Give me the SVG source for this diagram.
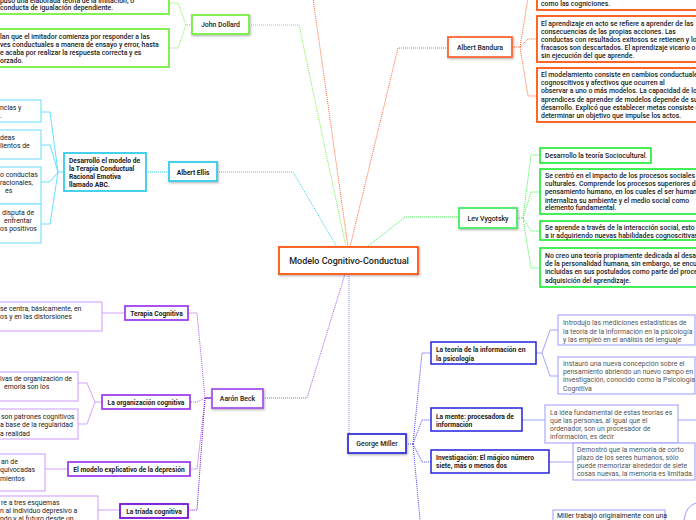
<svg xmlns="http://www.w3.org/2000/svg" width="696" height="520" viewBox="0 0 696 520">
<defs>
<filter id="sh" x="-20%" y="-20%" width="140%" height="160%"><feDropShadow dx="0.8" dy="1.2" stdDeviation="0.8" flood-color="#000" flood-opacity="0.3"/></filter>
</defs>
<style>
text{font-family:Roboto,"Liberation Sans",sans-serif;font-size:6.9px;fill:#222}
.c{text-anchor:middle}
.b{font-weight:700;font-size:6.7px}
.m{font-weight:500}
.g{fill:#555}
.box{fill:#fff}
.dot{fill:none;stroke-width:1;stroke-dasharray:1 1}
.sol{fill:none;stroke-width:0.9}
.or{stroke:#ff6633}
.gr1{stroke:#77f040}
.gr2{stroke:#44ee55}
.cy{stroke:#33ccee}
.pu{stroke:#a855f0}
.bl{stroke:#4444ee}
</style>
<rect width="696" height="520" fill="#fff"/>
<g id="connectors">
<path class="dot cy" d="M217,172 L293,172 L337,247"/>
<path class="dot gr1" d="M249,25 L299,25 L346,247"/>
<path class="dot or" d="M313,-2 L348,247"/>
<path class="dot or" d="M448,48 L398,48 L350,247"/>
<path class="dot gr2" d="M459,217 L405,217 L367,247"/>
<path class="dot pu" d="M263,398 L307,398 L345,274"/>
<path class="dot" style="stroke:#8888ff" d="M349,274 L349,434"/>
<path class="dot gr1" d="M192,25 L186,25 L178,3 L169,3 M186,25 L178,48 L169,48"/>
<path class="sol cy" style="stroke:#55ddff" d="M64,172 L58,172 L50,112 L41,112 M58,172 L50,145 L41,145 M58,172 L50,182 L41,182 M58,172 L50,224 L41,224"/>
<path class="dot cy" d="M169,172 L146,172"/>
<path class="sol pu" style="stroke:#7a10d8;stroke-width:1.3" d="M212,398 L205,398"/>
<path class="dot pu" d="M205,398 L197,313 L188,313 M205,398 L197,402 L190,402 M205,398 L197,469 L190,469"/>
<path class="dot pu" style="stroke:#7a10d8" d="M205,398 L197,510 L188,510"/>
<path class="sol pu" style="stroke:#cc99ff" d="M125,313 L102,313 M102,402 L95,402 L87,383 L78,383 M95,402 L87,424 L78,424 M68,469 L45,469 M120,510 L98,510"/>
<path class="dot bl" d="M406,444 L413,444 M413,444 L422,353 L431,353 M413,444 L422,420 L431,420 M413,444 L422,462 L431,462 M413,444 L420,520"/>
<path class="sol bl" style="stroke:#9999ff" d="M536,353 L542,353 L550,330 L558,330 M542,353 L550,376 L558,376 M522,420 L545,420 M678,420 L696,420 M549,462 L573,462"/>
<path class="dot or" d="M512,47 L520,47 L528,-2 L537,-2 M520,47 L528,39 L537,39 M520,47 L528,96 L537,96"/>
<path class="dot gr2" d="M517,218 L523,218 L531,155 L540,155 M523,218 L531,192 L540,192 M523,218 L531,231 L540,231 M523,218 L531,268 L540,268"/>
</g>
<g id="center">
<rect class="box" x="279" y="247" width="139" height="27" stroke="#ff5511" stroke-width="1.8" filter="url(#sh)"/>
<text class="c m" x="349" y="264" style="font-size:9px">Modelo Cognitivo-Conductual</text>
</g>
<g id="dollard">
<rect class="box" x="192" y="15" width="57" height="19" stroke="#77f040" stroke-width="1.8" filter="url(#sh)"/>
<text class="c m" x="220.5" y="27">John Dollard</text>
</g>
<g id="dollard-1">
<rect class="box" x="-5" y="-5" width="174" height="19" stroke="#77f040" stroke-width="1.8"/>
<text class="m" x="0" y="2.5">puso una elaborada teoría de la imitación, o</text>
<text class="m" x="0" y="10">conducta de igualación dependiente.</text>
</g>
<g id="dollard-2">
<rect class="box" x="-5" y="29" width="174" height="38" stroke="#77f040" stroke-width="1.8"/>
<text class="m" x="0" y="38.5">lan que el imitador comienza por responder a las</text>
<text class="m" x="0" y="46.5">ves conductuales a manera de ensayo y error, hasta</text>
<text class="m" x="0" y="55">e acaba por realizar la respuesta correcta y es</text>
<text class="m" x="0" y="63">orzado.</text>
</g>
<g id="ellis">
<rect class="box" x="169" y="162" width="48" height="19" stroke="#33ccee" stroke-width="1.8" filter="url(#sh)"/>
<text class="c b" x="193" y="174.5">Albert Ellis</text>
</g>
<g id="ellis-abc">
<rect class="box" x="64" y="153" width="82" height="38" stroke="#33ccee" stroke-width="1.8"/>
<text class="b" x="69" y="163">Desarrolló el modelo de</text>
<text class="b" x="69" y="170.5">la Terapia Conductual</text>
<text class="b" x="69" y="178.5">Racional Emotiva</text>
<text class="b" x="69" y="187">llamado ABC.</text>
</g>
<g id="ellis-a">
<rect class="box" x="-5" y="100" width="46" height="22" stroke="#66ddff" stroke-width="1"/>
<text x="0" y="110">ncias y</text>
<text x="0" y="118">.</text>
</g>
<g id="ellis-b">
<rect class="box" x="-5" y="130" width="46" height="29" stroke="#66ddff" stroke-width="1"/>
<text x="0" y="140">deas</text>
<text x="0" y="148">lientos de</text>
</g>
<g id="ellis-c">
<rect class="box" x="-5" y="167" width="46" height="37" stroke="#66ddff" stroke-width="1"/>
<text x="0" y="176.5">o conductas</text>
<text x="0" y="184.5">racionales,</text>
<text x="5" y="192.5">es</text>
</g>
<g id="ellis-d">
<rect class="box" x="-5" y="204" width="46" height="39" stroke="#66ddff" stroke-width="1"/>
<text x="2" y="214.5">disputa de</text>
<text x="4" y="222.5">enfrentar</text>
<text x="0" y="230.5">os positivos</text>
</g>
<g id="beck">
<rect class="box" x="212" y="389" width="51" height="19" stroke="#a855f0" stroke-width="1.8" filter="url(#sh)"/>
<text class="c m" x="237.5" y="401">Aarón Beck</text>
</g>
<g id="beck-terapia">
<rect class="box" x="125" y="306" width="63" height="14" stroke="#a040f0" stroke-width="1.8"/>
<text class="c b" x="156.5" y="315.5">Terapia Cognitiva</text>
</g>
<g id="beck-terapia-t">
<rect class="box" x="-5" y="302" width="107" height="29" stroke="#cc99ff" stroke-width="1"/>
<text x="0" y="310.5">se centra, básicamente, en</text>
<text x="0" y="319">os y en las distorsiones</text>
</g>
<g id="beck-org">
<rect class="box" x="102" y="395" width="88" height="14" stroke="#a040f0" stroke-width="1.8"/>
<text class="c b" x="146" y="404.5">La organización cognitiva</text>
</g>
<g id="beck-org-1">
<rect class="box" x="-5" y="372" width="83" height="29" stroke="#cc99ff" stroke-width="1"/>
<text x="0" y="380.5">ivas de organización de</text>
<text x="4" y="389">emoria son los</text>
</g>
<g id="beck-org-2">
<rect class="box" x="-5" y="409" width="83" height="30" stroke="#cc99ff" stroke-width="1"/>
<text x="1" y="419">son patrones cognitivos</text>
<text x="0" y="427">a base de la regularidad</text>
<text x="0" y="435.5">a realidad</text>
</g>
<g id="beck-depresion">
<rect class="box" x="68" y="462" width="122" height="14" stroke="#a040f0" stroke-width="1.8"/>
<text class="c b" x="129" y="471.5">El modelo explicativo de la depresión</text>
</g>
<g id="beck-depresion-t">
<rect class="box" x="-5" y="454" width="50" height="37" stroke="#cc99ff" stroke-width="1"/>
<text x="1" y="464">an de</text>
<text x="0" y="472">quivocadas</text>
<text x="0" y="480.5">mientos</text>
</g>
<g id="beck-triada">
<rect class="box" x="120" y="504" width="68" height="14" stroke="#7a10d8" stroke-width="1.8"/>
<text class="c b" x="154" y="513.5">La tríada cognitiva</text>
</g>
<g id="beck-triada-t">
<rect class="box" x="-5" y="496" width="103" height="30" stroke="#cc99ff" stroke-width="1"/>
<text x="1" y="504.5">re a tres esquemas</text>
<text x="0" y="512.5">n al individuo depresivo a</text>
<text x="0" y="520.5">ndo y al futuro desde un</text>
</g>
<g id="miller">
<rect class="box" x="348" y="434" width="58" height="19" stroke="#3333dd" stroke-width="1.8" filter="url(#sh)"/>
<text class="c m" x="377" y="446">George Miller</text>
</g>
<g id="miller-teoria">
<rect class="box" x="431" y="342" width="105" height="22" stroke="#2222dd" stroke-width="1.5"/>
<text class="b" x="436" y="352">La teoría de la información en</text>
<text class="b" x="436" y="360.5">la psicología</text>
</g>
<g id="miller-teoria-1">
<rect class="box" x="558" y="315" width="137" height="30" stroke="#9999ff" stroke-width="1"/>
<text class="g" x="563" y="325">Introdujo las mediciones estadísticas de</text>
<text class="g" x="563" y="333.5">la teoría de la información en la psicología</text>
<text class="g" x="563" y="341.5">y las empleó en el análisis del lenguaje</text>
</g>
<g id="miller-teoria-2">
<rect class="box" x="558" y="357" width="137" height="37" stroke="#9999ff" stroke-width="1"/>
<text class="g" x="563" y="365.5">Instauró una nueva concepción sobre el</text>
<text class="g" x="563" y="373.5">pensamiento abriendo un nuevo campo en</text>
<text class="g" x="563" y="382">investigación, conocido como la Psicología</text>
<text class="g" x="563" y="390.5">Cognitiva</text>
</g>
<g id="miller-mente">
<rect class="box" x="431" y="408" width="91" height="23" stroke="#2222dd" stroke-width="1.5"/>
<text class="b" x="436" y="418.5">La mente: procesadora de</text>
<text class="b" x="436" y="426.5">información</text>
</g>
<g id="miller-mente-t">
<rect class="box" x="545" y="405" width="133" height="38" stroke="#9999ff" stroke-width="1"/>
<text class="g" x="550" y="415">La idea fundamental de estas teorías es</text>
<text class="g" x="550" y="423">que las personas, al igual que el</text>
<text class="g" x="550" y="431">ordenador, son un procesador de</text>
<text class="g" x="550" y="439">información, es decir</text>
</g>
<g id="miller-siete">
<rect class="box" x="431" y="450" width="118" height="23" stroke="#2222dd" stroke-width="1.5"/>
<text class="b" x="436" y="459.5">Investigación: El mágico número</text>
<text class="b" x="436" y="468">siete, más o menos dos</text>
</g>
<g id="miller-siete-t">
<rect class="box" x="573" y="443" width="122" height="37" stroke="#9999ff" stroke-width="1"/>
<text class="g" x="577" y="451.5">Demostró que la memoria de corto</text>
<text class="g" x="577" y="459.5">plazo de los seres humanos, sólo</text>
<text class="g" x="577" y="467.5">puede memorizar alrededor de siete</text>
<text class="g" x="577" y="475.5">cosas nuevas, la memoria es limitada.</text>
</g>
<g id="miller-bottom">
<rect class="box" x="553" y="510" width="112" height="20" stroke="#9999ff" stroke-width="1"/>
<text x="557" y="518">Miller trabajó originalmente con una</text>
<path d="M696,503 Q686,506 684,520" fill="none" stroke="#9999ff" stroke-width="1"/>
</g>
<g id="bandura">
<rect class="box" x="448" y="37" width="64" height="20" stroke="#ff6633" stroke-width="1.8" filter="url(#sh)"/>
<text class="c m" x="480" y="49.5">Albert Bandura</text>
</g>
<g id="bandura-0">
<rect class="box" x="537" y="-5" width="170" height="15" stroke="#ff5511" stroke-width="1.8"/>
<text class="m" x="541" y="6">como las cogniciones.</text>
</g>
<g id="bandura-1">
<rect class="box" x="537" y="16" width="170" height="46" stroke="#ff5511" stroke-width="1.8"/>
<text class="m" x="541" y="25.5">El aprendizaje en acto se refiere a aprender de las</text>
<text class="m" x="541" y="34">consecuencias de las propias acciones. Las</text>
<text class="m" x="541" y="42">conductas con resultados exitosos se retienen y los</text>
<text class="m" x="541" y="50">fracasos son descartados. El aprendizaje vicario o</text>
<text class="m" x="541" y="58">sin ejecución del que aprende.</text>
</g>
<g id="bandura-2">
<rect class="box" x="537" y="68" width="170" height="54" stroke="#ff5511" stroke-width="1.8"/>
<text class="m" x="541" y="76.5">El modelamiento consiste en cambios conductuales,</text>
<text class="m" x="541" y="84.5">cognoscitivos y afectivos que ocurren al</text>
<text class="m" x="541" y="93">observar a uno o más modelos. La capacidad de los</text>
<text class="m" x="541" y="101.5">aprendices de aprender de modelos depende de su</text>
<text class="m" x="541" y="110">desarrollo. Explicó que establecer metas consiste en</text>
<text class="m" x="541" y="118">determinar un objetivo que impulse los actos.</text>
</g>
<g id="vygotsky">
<rect class="box" x="459" y="208" width="58" height="20" stroke="#44ee66" stroke-width="1.8" filter="url(#sh)"/>
<text class="c m" x="488" y="220.5">Lev Vygotsky</text>
</g>
<g id="vygotsky-1">
<rect class="box" x="540" y="148" width="111" height="15" stroke="#33ee44" stroke-width="1.8"/>
<text class="m" x="545" y="157.5">Desarrollo la teoría Sociocultural.</text>
</g>
<g id="vygotsky-2">
<rect class="box" x="540" y="169" width="165" height="45" stroke="#33ee44" stroke-width="1.8"/>
<text class="m" x="545" y="177.5">Se centró en el impacto de los procesos sociales y</text>
<text class="m" x="545" y="185.5">culturales. Comprende los procesos superiores del</text>
<text class="m" x="545" y="194">pensamiento humano, en los cuales el ser humano</text>
<text class="m" x="545" y="202.5">internaliza su ambiente y el medio social como</text>
<text class="m" x="545" y="210">elemento fundamental.</text>
</g>
<g id="vygotsky-3">
<rect class="box" x="540" y="221" width="165" height="19" stroke="#33ee44" stroke-width="1.8"/>
<text class="m" x="545" y="229.5">Se aprende a través de la interacción social, esto a</text>
<text class="m" x="545" y="237.5">a ir adquiriendo nuevas habilidades cognoscitivas</text>
</g>
<g id="vygotsky-4">
<rect class="box" x="540" y="248" width="165" height="39" stroke="#33ee44" stroke-width="1.8"/>
<text class="m" x="545" y="257.5">No creo una teoría propiamente dedicada al desarrollo</text>
<text class="m" x="545" y="265.5">de la personalidad humana, sin embargo, se encuentran</text>
<text class="m" x="545" y="274">incluidas en sus postulados como parte del proceso</text>
<text class="m" x="545" y="282.5">adquisición del aprendizaje.</text>
</g>
</svg>
